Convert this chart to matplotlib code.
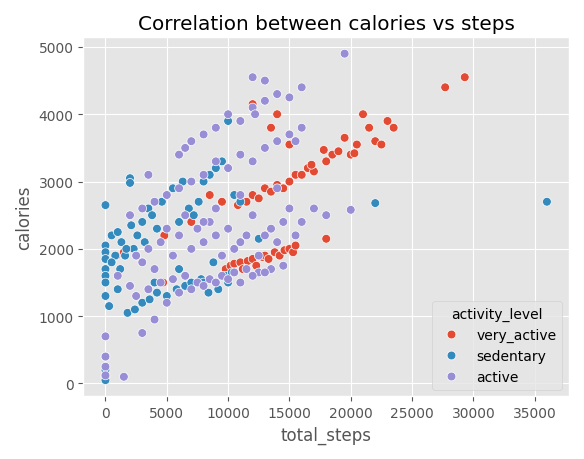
import matplotlib
matplotlib.use("Agg")
import matplotlib.pyplot as plt
import pandas as pd
import seaborn as sns

plt.style.use("ggplot")

# very_active
va_steps = [900, 1500, 4800, 4700, 7000, 9800, 10200, 10500, 11000, 11200, 11600, 12000, 12300,
            12800, 13000, 13300, 13800, 14200, 14600, 15000, 15300, 15500, 10800, 11500, 12000,
            12500, 13000, 13500, 14000, 14500, 15000, 15500, 16000, 16500, 17000, 18000, 18500,
            19000, 19500, 20000, 20500, 21000, 21500, 22000, 22500, 23000, 23500, 11000, 12000,
            13500, 15000, 18000, 27700, 29300, 9500, 8500, 14000, 16800, 20300, 17800]
va_cal = [1900, 1950, 2200, 1500, 2400, 1700, 1750, 1780, 1800, 1700, 1820, 1850, 1750,
          1880, 1900, 1850, 1950, 1900, 1980, 2000, 1950, 2050, 2650, 2700, 2800, 2750,
          2900, 2850, 2950, 2900, 3000, 3100, 3100, 3200, 3150, 3300, 3400, 3450, 3650,
          3400, 3550, 4000, 3800, 3600, 3550, 3900, 3800, 3900, 4150, 3800, 3550, 2150,
          4400, 4550, 2700, 2800, 4000, 3250, 3420, 3470]

# sedentary
se_steps = [0, 0, 0, 0, 0, 0, 0, 0, 0, 0, 0, 0, 300, 500, 800, 1000, 1300, 1600, 2000, 2000, 2100,
            2300, 2600, 3000, 3200, 3500, 3800, 4200, 4600, 5000, 5500, 6000, 6300, 6800, 7200,
            7600, 8000, 8500, 9000, 9500, 10000, 10500, 11000, 1800, 2400, 3000, 3600, 4200, 5000,
            5800, 6500, 7000, 7800, 8400, 9200, 10000, 9800, 10300, 22000, 36000, 500, 1200, 1700,
            2500, 4000, 6000, 8000, 8800, 12500, 1000]
se_cal = [2650, 2050, 1950, 1850, 1700, 1600, 1500, 1300, 400, 200, 100, 50, 1150, 2200, 1900,
          2250, 2100, 1900, 3050, 2980, 2350, 2000, 2200, 2400, 2100, 2600, 2500, 2300, 2700,
          2800, 2900, 2400, 3000, 2600, 2500, 2700, 3000, 3100, 3200, 3300, 3900, 2800, 2700,
          1050, 1100, 1200, 1250, 1350, 1300, 1400, 1450, 1500, 1550, 1350, 1400, 1500, 1600,
          1650, 2680, 2700, 1800, 1700, 2000, 1900, 1500, 1700, 1500, 1800, 2150, 1400]

# active
ac_steps = [0, 0, 0, 0, 1500, 1000, 2000, 2500, 3000, 3500, 4000, 4500, 5000, 5500, 6000, 6500,
            7000, 7500, 8000, 8500, 9000, 9500, 10000, 10500, 11000, 11500, 12000, 12500, 13000,
            13500, 14000, 14500, 15000, 15500, 16000, 17000, 18000, 19500, 20000, 2000, 3000,
            4000, 5000, 6000, 7000, 8000, 9000, 10000, 11000, 12000, 13000, 14000, 15000, 16000,
            3500, 4500, 5500, 6500, 7500, 8500, 9500, 10500, 11500, 12500, 13500, 14500, 6000,
            7000, 8000, 9000, 10000, 11000, 12000, 13000, 14000, 2500, 3000, 4000, 5000, 6000,
            7000, 8000, 9000, 10000, 11000, 12000, 13000, 12000, 13000, 15000, 16000, 8000,
            9000, 11000, 14000, 3500, 6500, 12200, 15500]
ac_cal = [700, 400, 250, 120, 100, 1600, 1450, 1900, 1800, 2000, 1700, 2100, 2300, 1900, 2200,
          2500, 2000, 2300, 2100, 2400, 2200, 1900, 2300, 2000, 2100, 2200, 2500, 1900, 2200,
          2300, 2100, 2400, 2600, 2200, 2400, 2600, 2500, 4900, 2580, 2500, 2600, 2700, 2800,
          2900, 3000, 3100, 3300, 3200, 3400, 3300, 3500, 3600, 3700, 3800, 1400, 1500, 1550,
          1600, 1500, 1550, 1600, 1650, 1700, 1650, 1700, 1750, 3400, 3600, 3700, 3800, 4000,
          3900, 4100, 4200, 4300, 1300, 750, 950, 1200, 1350, 1400, 1450, 1500, 1550, 1500,
          1600, 1650, 4550, 4500, 4250, 4400, 2400, 2600, 2800, 2900, 3100, 3500, 4000, 3600]

df = pd.DataFrame({
    "total_steps": va_steps + se_steps + ac_steps,
    "calories": va_cal + se_cal + ac_cal,
    "activity_level": ["very_active"] * len(va_steps) + ["sedentary"] * len(se_steps)
                      + ["active"] * len(ac_steps),
})

fig, ax = plt.subplots(figsize=(5.84, 4.6), dpi=100)
sns.scatterplot(data=df, x="total_steps", y="calories", hue="activity_level",
                palette=["#E24A33", "#348ABD", "#988ED5"], edgecolor="white", s=40, ax=ax)
ax.set_title("Correlation between calories vs steps")
ax.legend(title="activity_level", loc="lower right")
fig.tight_layout()
fig.savefig("out.png")
